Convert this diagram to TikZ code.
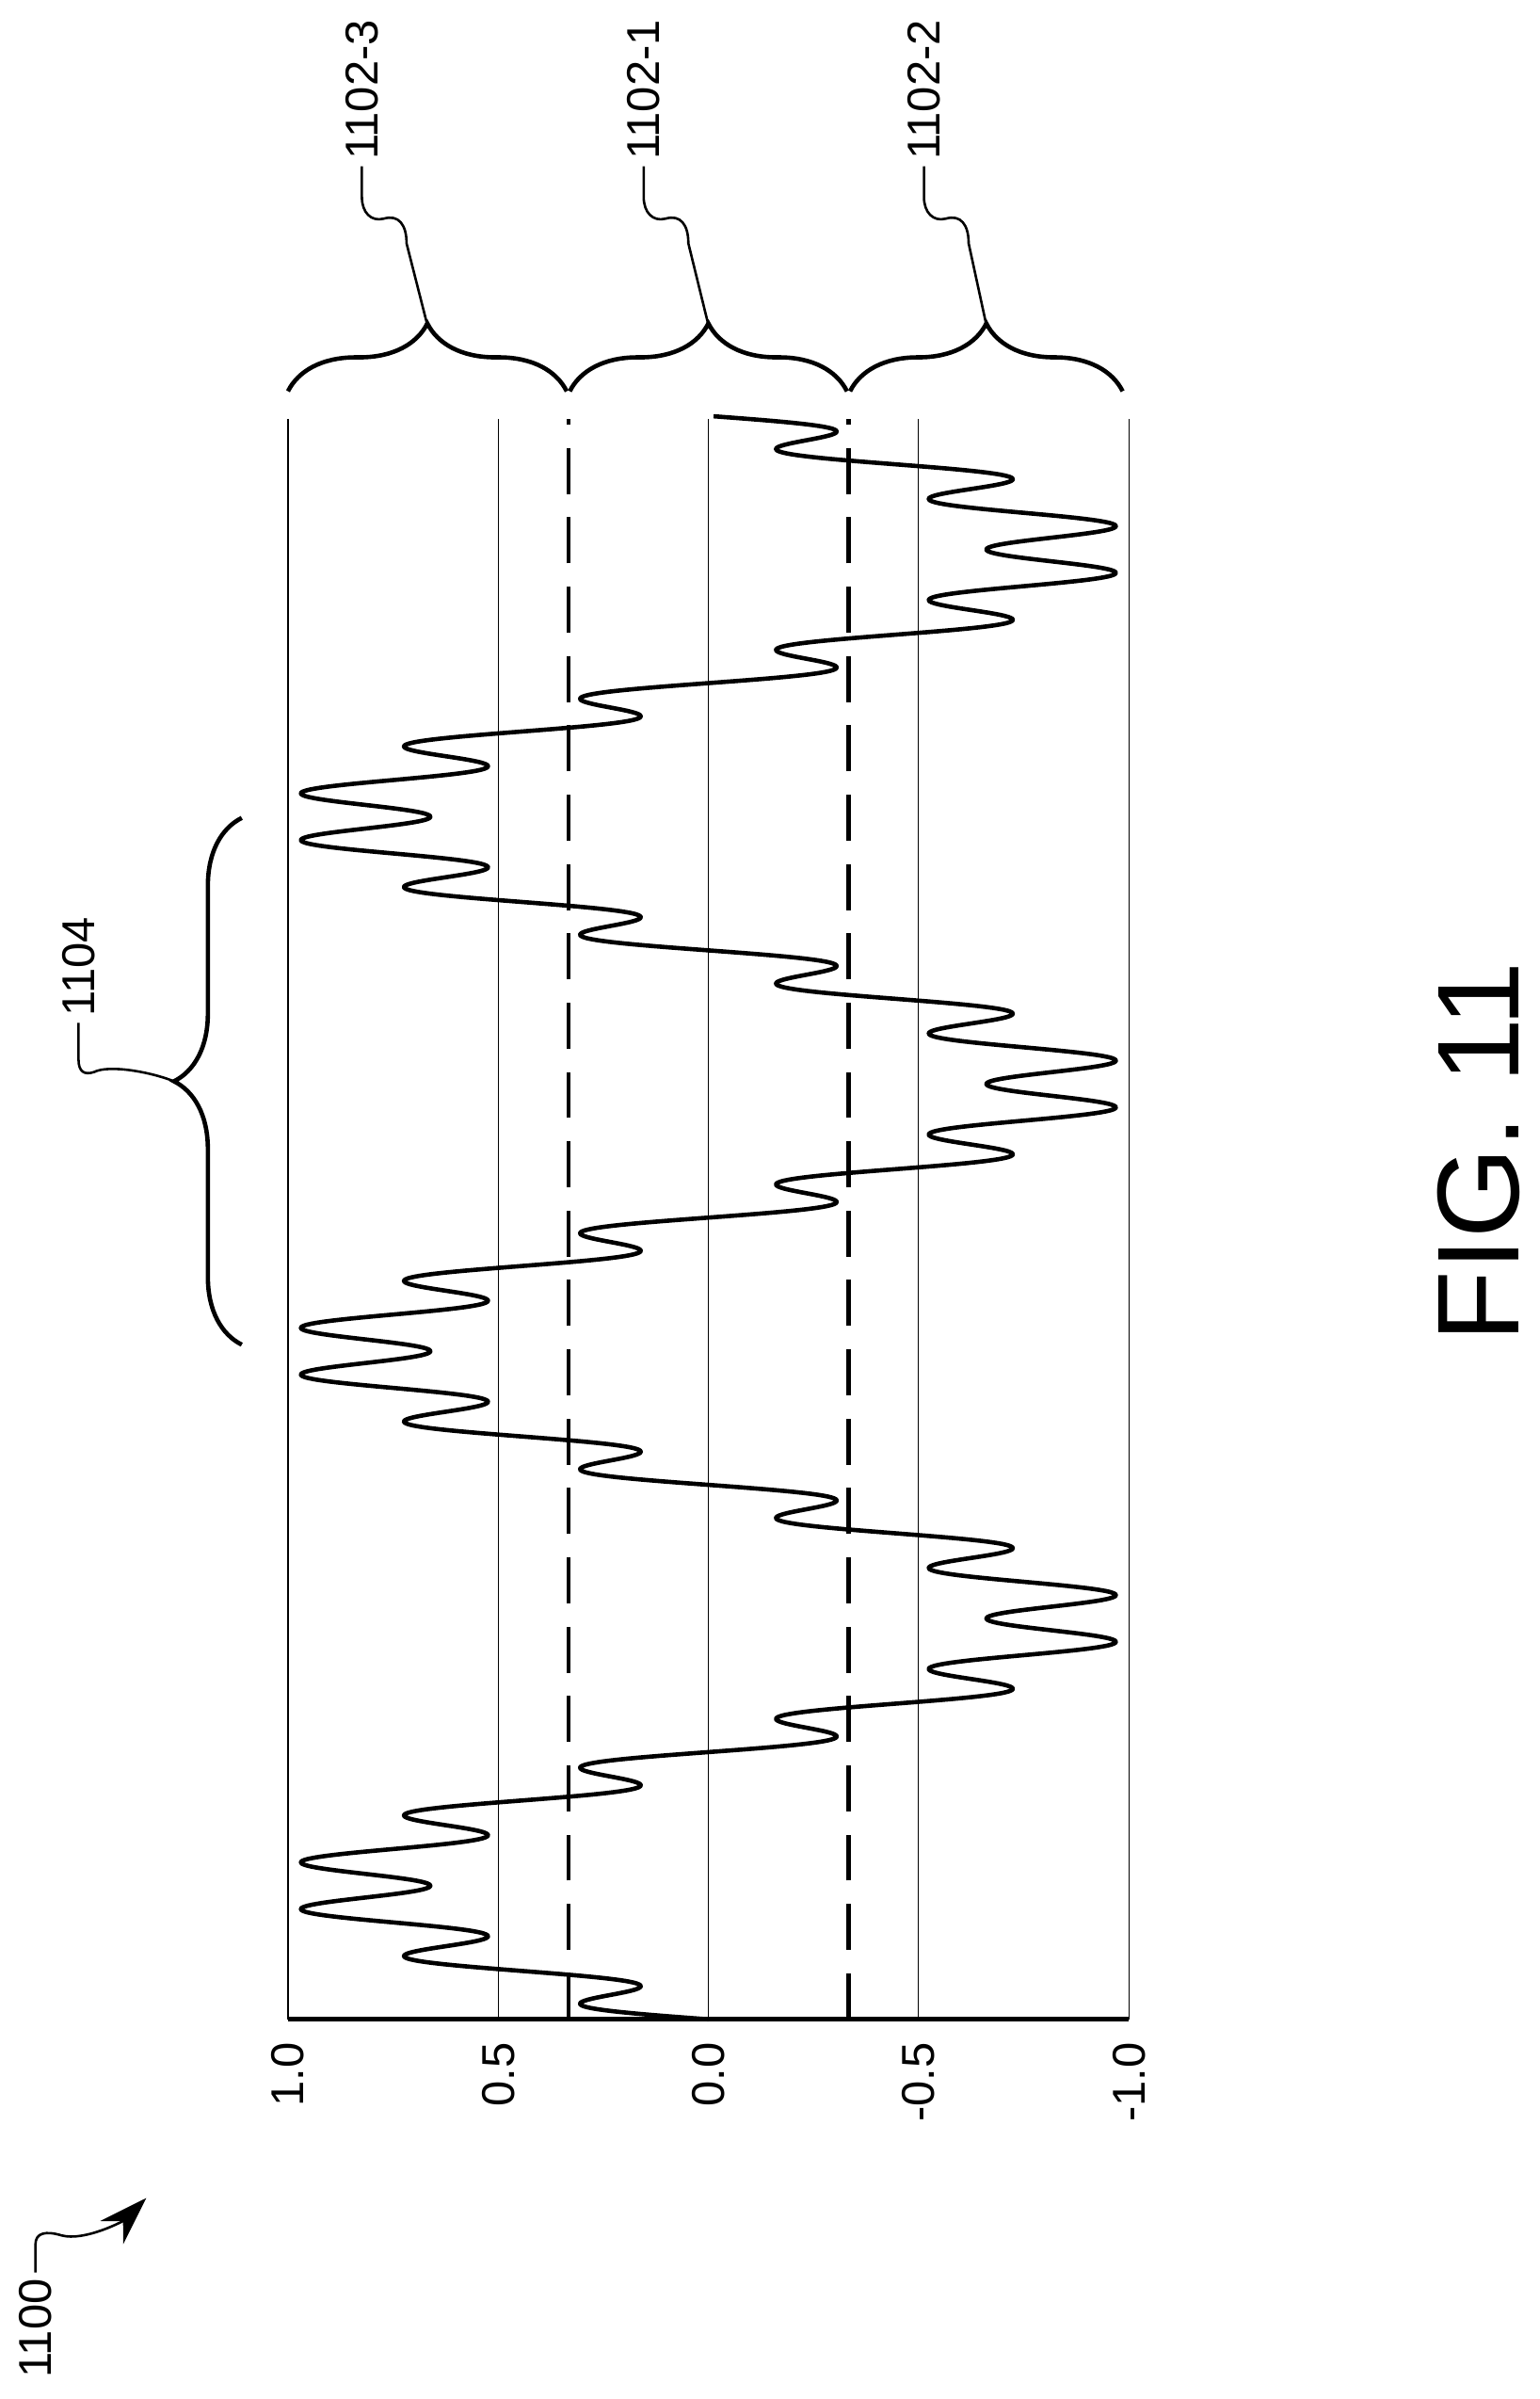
\documentclass[tikz,border=0pt]{standalone}
\usepackage{fontspec}
\setmainfont{Liberation Sans}
\usetikzlibrary{decorations.pathreplacing,arrows.meta}

\begin{document}
\begin{tikzpicture}[x=0.01cm, y=-0.01cm,
                    every node/.style={inner sep=1pt, font=\fontsize{8.5}{10}\selectfont},
                    grid_style/.style={draw=black, line width=0.2pt},
                    level_style/.style={draw=black, line width=0.75pt, dash pattern=on 8.5pt off 4.3pt},
                    wave_style/.style={draw=black, line width=0.8pt, line join=round},
                    brace_style/.style={draw=black, line width=0.8pt, decorate,
                                        decoration={brace, amplitude=0.44cm}},
                    leader_style/.style={draw=black, line width=0.45pt}]
                    \useasboundingbox (0,0) rectangle (1000,1557.5);
                    % grid and axis
                    \foreach \gx in {187,323.5,460,596.5,733}
                        \draw[grid_style] (\gx,272) -- (\gx,1311);
                    \draw[line width=0.8pt] (187,1311) -- (733,1311);
                    \foreach \gx/\gv in {187/1.0,323.5/0.5,460/0.0,596.5/-0.5,733/-1.0}
                        \node[rotate=90, anchor=east] (t\gx) at (\gx,1322) {\gv};
                    % level boundaries
                    \draw[level_style] (369,1311) -- (369,272);
                    \draw[level_style] (551,1311) -- (551,272);
                    % waveform
                    \draw[wave_style] plot[domain=0:1, samples=1600, smooth]
                        ({460-273.5*(0.83*sin(1080*\x)+0.17*sin(11880*\x))}, {1311-1041*\x});
                    % braces
                    \draw[brace_style] (187,254) -- (368,254);
                    \draw[brace_style] (370,254) -- (550,254);
                    \draw[brace_style] (552,254) -- (729,254);
                    \draw[brace_style] (157,873) -- (157,531);
                    \coordinate (b3) at (277.5,211);
                    \coordinate (b1) at (460,211);
                    \coordinate (b2) at (640.5,211);
                    \coordinate (b4) at (113,702);
                    % labels
                    \node[rotate=90, anchor=west] (l3) at (235,108) {1102-3};
                    \node[rotate=90, anchor=west] (l1) at (418,108) {1102-1};
                    \node[rotate=90, anchor=west] (l2) at (600,108) {1102-2};
                    \node[rotate=90, anchor=west] (l4) at (51,664) {1104};
                    \node[rotate=90, anchor=west] (l0) at (23,1548) {1100};
                    \node[rotate=90, font=\fontsize{21.5}{24}\selectfont] (fig) at (960,748) {FIG. 11};
                    % leaders
                    \draw[leader_style] (l3.west) -- ++(0,20) .. controls +(0,10) and +(-8,2) .. ++(14,14)
                        .. controls +(10,-3) and +(0,-12) .. ++(15,16) -- (b3);
                    \draw[leader_style] (l1.west) -- ++(0,20) .. controls +(0,10) and +(-8,2) .. ++(14,14)
                        .. controls +(10,-3) and +(0,-12) .. ++(15,16) -- (b1);
                    \draw[leader_style] (l2.west) -- ++(0,20) .. controls +(0,10) and +(-8,2) .. ++(14,14)
                        .. controls +(10,-3) and +(0,-12) .. ++(15,16) -- (b2);
                    \draw[leader_style] (l4.west) -- ++(0,24) .. controls +(0,8) and +(-6,2) .. ++(10,8)
                        .. controls +(10,-5) and +(-15,-6) .. (b4);
                    \draw[leader_style, -{Stealth[length=9pt, width=6pt]}] (l0.east) -- ++(0,-18)
                        .. controls +(0,-8) and +(-10,-3) .. ++(17,-6)
                        .. controls +(15,4) and +(-15,15) .. (95,1427);
                \end{tikzpicture}
\end{document}
